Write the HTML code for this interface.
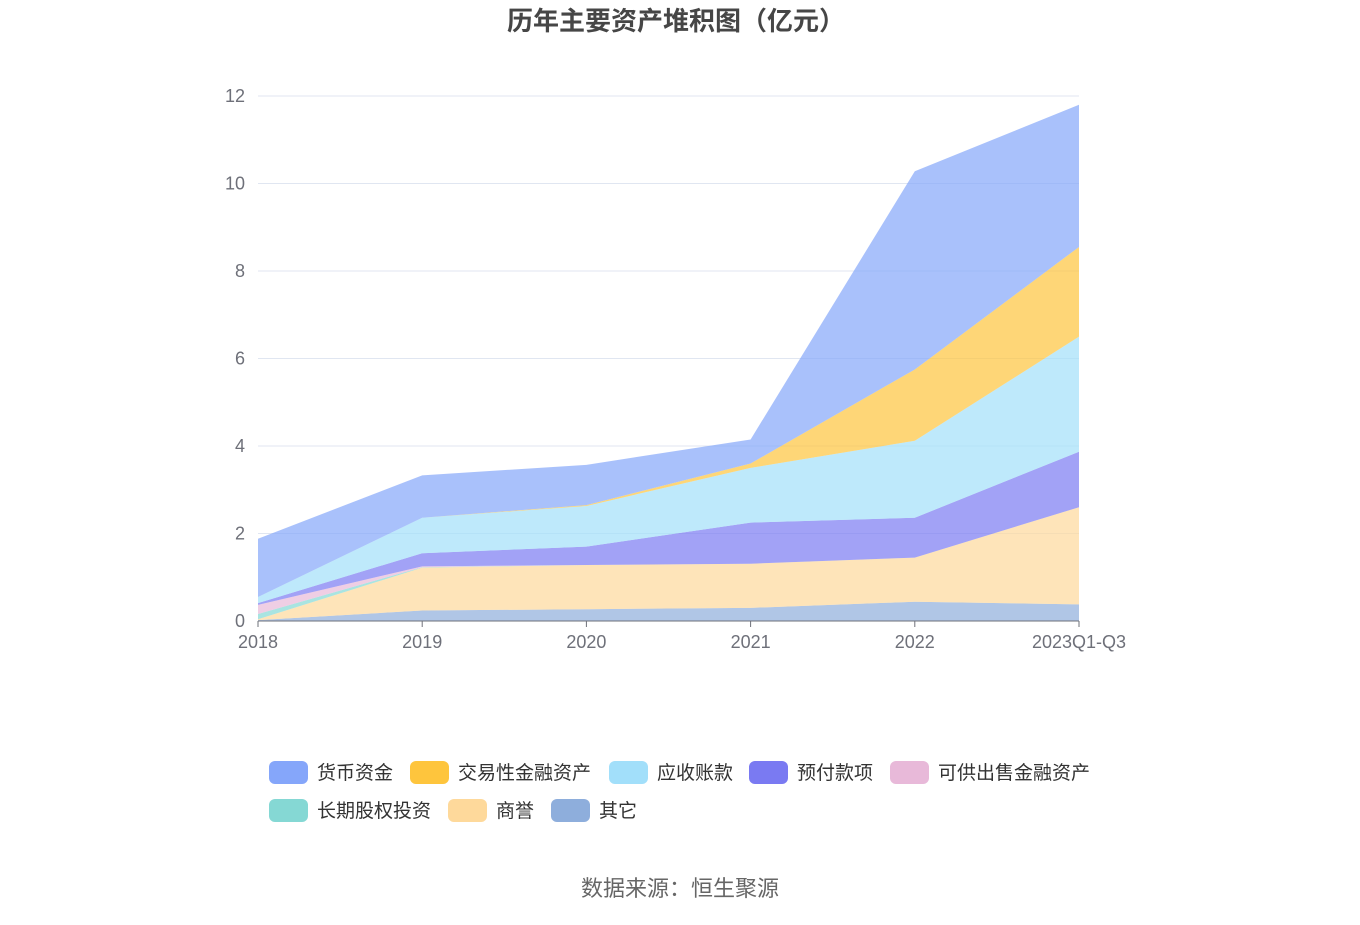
<!DOCTYPE html>
<html><head><meta charset="utf-8">
<style>
body{margin:0;background:#fff;width:1360px;height:920px;overflow:hidden;font-family:"Liberation Sans","Noto Sans CJK SC",sans-serif;}
svg text{font-family:"Liberation Sans","Noto Sans CJK SC",sans-serif;}
</style></head><body>
<svg id="chart" width="1360" height="920">
<text x="676" y="30" text-anchor="middle" font-size="26" font-weight="bold" fill="#464646">历年主要资产堆积图（亿元）</text>
<g id="grid"></g><g id="areas"></g><g id="axes"></g><g id="legend"></g>
<text x="680" y="896" text-anchor="middle" font-size="22" fill="#666">数据来源：恒生聚源</text>
</svg>
<script>
const categories=["2018","2019","2020","2021","2022","2023Q1-Q3"];
const seriesNames=["其它","商誉","长期股权投资","可供出售金融资产","预付款项","应收账款","交易性金融资产","货币资金"];
const other=[0.02,0.24,0.27,0.3,0.44,0.38];
const goodwill=[0.02,0.98,1.01,1.01,1.01,2.22];
const ltEquity=[0.12,0.01,0,0,0,0];
const afs=[0.21,0.02,0,0,0,0];
const prepay=[0.04,0.3,0.42,0.94,0.91,1.27];
const receivable=[0.14,0.81,0.93,1.25,1.76,2.63];
const trading=[0,0,0.02,0.1,1.63,2.05];
const cash=[1.33,0.97,0.92,0.55,4.53,3.25];
const yTicks=[0,2,4,6,8,10,12];
const seriesData=[other,goodwill,ltEquity,afs,prepay,receivable,trading,cash];
const colors=["#8eaedc","#fed99b","#85d8d4","#e8b9d9","#7a7af2","#a2dffa","#fec53d","#85a6fa"];
const legendOrder=[7,6,5,4,3,2,1,0];
const NS="http://www.w3.org/2000/svg";
const x0=258,x1=1079,yb=621,yt=96,ymax=12;
const X=i=>x0+(x1-x0)*i/(categories.length-1);
const Y=v=>yb-(yb-yt)*v/ymax;
function mk(tag,attrs,parent){const e=document.createElementNS(NS,tag);for(const k in attrs)e.setAttribute(k,attrs[k]);parent.appendChild(e);return e;}
const grid=document.getElementById('grid'),areas=document.getElementById('areas'),axes=document.getElementById('axes'),legend=document.getElementById('legend');
yTicks.forEach(t=>{
 if(t>0){const l=mk('line',{x1:x0,x2:x1,y1:Y(t),y2:Y(t),stroke:'#e0e6f1'},grid);
 
 }
 const tx=mk('text',{x:245,y:Y(t)+6,'text-anchor':'end','font-size':18,fill:'#6e7079'},axes);tx.textContent=t;
 
 
});
let base=categories.map(()=>0);
seriesData.forEach((s,k)=>{
 const top=base.map((b,i)=>b+s[i]);
 let d='M'+top.map((v,i)=>X(i)+','+Y(v)).join('L');
 for(let i=categories.length-1;i>=0;i--)d+='L'+X(i)+','+Y(base[i]);
 const p=mk('path',{d:d+'Z',fill:colors[k],'fill-opacity':0.7},areas);
 
 
 base=top;
});
const ax=mk('line',{x1:x0,x2:x1,y1:yb,y2:yb,stroke:'#6e7079'},axes);


categories.forEach((c,i)=>{
 mk('line',{x1:X(i),x2:X(i),y1:yb,y2:yb+6,stroke:'#6e7079'},axes);
 const t=mk('text',{x:X(i),y:648,'text-anchor':'middle','font-size':18,fill:'#6e7079'},axes);t.textContent=c;
 
 
});
const pos=[[269,761],[410,761],[609,761],[749,761],[890,761],[269,799],[448,799],[551,799]];
legendOrder.forEach((k,j)=>{
 const g=mk('g',{},legend);
 
 
 mk('rect',{x:pos[j][0],y:pos[j][1],width:39,height:23,rx:6,fill:colors[k]},g);
 const t=mk('text',{x:pos[j][0]+48,y:pos[j][1]+18,'font-size':19,fill:'#333'},g);t.textContent=seriesNames[k];
});
</script>
</body></html>
